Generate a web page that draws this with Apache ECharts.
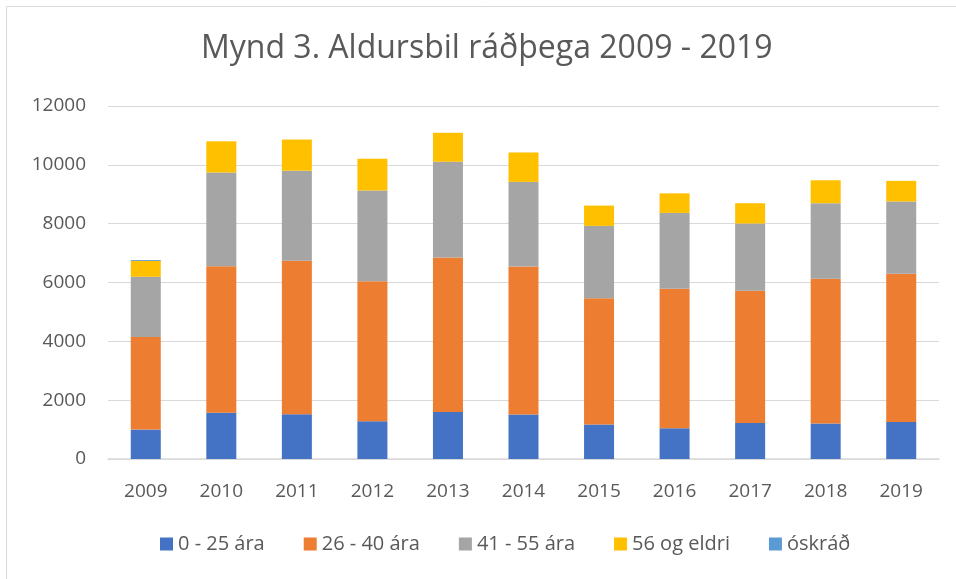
<!DOCTYPE html>
<html>
<head>
<meta charset="utf-8">
<script src="https://cdn.jsdelivr.net/npm/echarts@6/dist/echarts.min.js"></script>
<style>
  html, body { margin: 0; padding: 0; background: #fff; }
  #main { width: 956px; height: 579px; }
</style>
</head>
<body>
<div id="main"></div>
<script>
var years = ["2009", "2010", "2011", "2012", "2013", "2014", "2015", "2016", "2017", "2018", "2019"];
// aldurshópar
var aldur0_25 = [1000, 1570, 1520, 1280, 1600, 1510, 1170, 1045, 1225, 1205, 1260];
var aldur26_40 = [3150, 4980, 5220, 4760, 5250, 5030, 4295, 4745, 4495, 4925, 5040];
var aldur41_55 = [2045, 3190, 3060, 3085, 3255, 2880, 2460, 2575, 2285, 2565, 2455];
var aldur56 = [540, 1060, 1060, 1085, 985, 1000, 690, 665, 690, 780, 700];
var oskrad = [30, 0, 0, 0, 0, 0, 0, 0, 0, 0, 0];
var yTicks = [0, 2000, 4000, 6000, 8000, 10000, 12000];

var textColor = "#595959";
var font = "Open Sans";

var myChart = echarts.init(document.getElementById("main"));

function bar(name, data, color) {
  return {
    name: name,
    type: "bar",
    stack: "alls",
    barWidth: 30,
    data: data,
    itemStyle: { color: color },
  };
}

var option = {
  animation: false,
  title: {
    text: "Mynd 3. Aldursbil ráðþega 2009 - 2019",
    left: 196,
    top: 28,
    textStyle: {
      color: textColor,
      fontFamily: font,
      fontSize: 32,
      fontWeight: "normal",
    },
  },
  graphic: [
    {
      // rammi
      type: "rect",
      shape: { x: 6.5, y: 6.5, width: 960, height: 590 },
      style: { fill: "none", stroke: "#d9d9d9", lineWidth: 1 },
      silent: true,
    },
  ],
  grid: {
    left: 108,
    right: 17,
    top: 106,
    bottom: 120,
  },
  legend: {
    bottom: 20,
    left: 155,
    icon: "rect",
    itemWidth: 13,
    itemHeight: 13,
    itemGap: 39,
    textStyle: {
      color: textColor,
      fontFamily: font,
      fontSize: 20,
    },
  },
  xAxis: {
    type: "category",
    data: years,
    axisTick: { show: false },
    axisLine: { lineStyle: { color: "#d9d9d9", width: 1.5 } },
    axisLabel: {
      color: textColor,
      fontFamily: font,
      fontSize: 19,
      margin: 23,
    },
  },
  yAxis: {
    type: "value",
    min: yTicks[0],
    max: yTicks[yTicks.length - 1],
    interval: yTicks[1] - yTicks[0],
    axisLine: { show: false },
    axisTick: { show: false },
    splitLine: { lineStyle: { color: "#d9d9d9", width: 1 } },
    axisLabel: {
      color: textColor,
      fontFamily: font,
      fontSize: 19,
      margin: 22,
      formatter: function (v) { return String(v); },
    },
  },
  series: [
    bar("0 - 25 ára", aldur0_25, "#4472C4"),
    bar("26 - 40 ára", aldur26_40, "#ED7D31"),
    bar("41 - 55 ára", aldur41_55, "#A5A5A5"),
    bar("56 og eldri", aldur56, "#FFC000"),
    bar("óskráð", oskrad, "#5B9BD5"),
  ],
};

myChart.setOption(option);
</script>
</body>
</html>
